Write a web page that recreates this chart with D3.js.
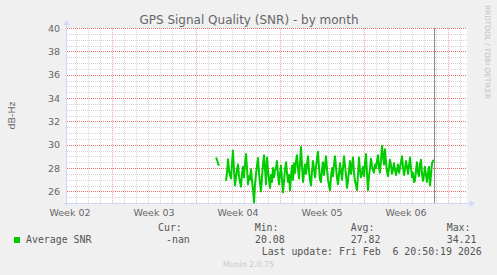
<!DOCTYPE html>
<html><head><meta charset="utf-8">
<script src="https://cdn.jsdelivr.net/npm/d3@7"></script>
<style>html,body{margin:0;padding:0;background:#F0F0F0;}svg{display:block;}</style>
</head><body>
<script>
// ---------- data ----------
const title = "GPS Signal Quality (SNR) - by month";
const yLabel = "dB-Hz";
const seriesName = "Average SNR";
const seriesColor = "#00CC00";
const yTicks = [26, 28, 30, 32, 34, 36, 38, 40];
const weekLabels = ["Week 02", "Week 03", "Week 04", "Week 05", "Week 06"];
const weekStarts = ["2026-01-04", "2026-01-11", "2026-01-18", "2026-01-25", "2026-02-01"];
const statLabels = ["Cur:", "Min:", "Avg:", "Max:"];
const statValues = ["-nan", "20.08", "27.82", "34.21"];
const lastUpdate = "Last update: Fri Feb  6 20:50:19 2026";
const lastUpdateTime = "2026-02-06T20:50:19Z";
const viewStart = "2026-01-07T06:00:00Z";
const viewEnd = "2026-02-09T14:00:00Z";
const dataStart = "2026-01-19T16:00:00Z"; // one value every 2 hours
const snr = [
 28.9,28.7,28.4,28.2,null,null,null,null,null,null,
 26.9,27.6,28.75,27.8,27.4,27.1,28.4,29.5,27.8,26.5,
 27.2,27.9,28.3,27.3,26.8,26.4,27.5,28.1,27.2,28.4,
 29.2,28.0,26.6,27.3,27.0,27.9,26.9,26.2,25.05,26.6,
 27.5,28.2,28.85,27.6,26.7,26.0,27.2,28.3,29.1,27.9,
 26.6,28.9,27.8,27.0,26.3,27.4,26.8,28.0,27.2,27.8,
 28.0,28.6,27.4,26.6,27.5,28.2,27.0,25.9,26.8,27.9,
 28.5,27.6,26.8,27.4,26.1,27.3,28.2,27.0,28.4,27.6,
 28.6,29.1,28.0,27.1,28.4,29.8,28.2,26.8,27.6,28.3,
 27.5,28.4,29.0,27.8,26.9,26.5,27.7,28.6,27.9,27.2,
 28.1,28.8,29.4,28.0,27.0,26.8,27.9,28.5,27.4,28.2,
 29.0,27.9,27.0,26.5,26.1,27.2,28.0,27.3,28.3,29.0,
 28.1,27.1,26.6,27.5,28.4,27.7,27.0,28.0,29.0,28.2,
 27.4,26.3,26.9,27.8,28.6,27.5,28.2,28.9,27.6,26.9,
 26.5,26.1,27.4,28.9,27.8,27.2,27.6,28.1,27.3,28.4,
 29.2,27.5,26.1,27.3,28.0,28.8,28.2,27.8,27.6,28.3,
 28.0,28.6,29.1,28.0,27.6,28.7,29.9,29.0,28.3,29.6,
 28.5,27.7,27.3,28.0,28.7,28.2,27.5,27.9,28.4,27.8,
 27.4,27.9,28.3,27.6,28.0,28.5,29.0,28.1,27.4,27.9,
 28.6,28.1,27.5,28.2,28.9,28.0,27.2,27.6,26.8,26.9,
 27.8,28.5,27.6,27.3,28.3,28.7,27.5,26.9,27.4,28.1,
 27.4,26.8,27.5,28.1,26.5,27.4,28.4,28.6,28.7
];

// ---------- layout ----------
const W = 497, H = 275;
const L = 67, R = 467, T = 28, B = 203;
const svg = d3.select("body").append("svg").attr("width", W).attr("height", H).attr("shape-rendering", "crispEdges");
svg.append("rect").attr("width", W).attr("height", H).attr("fill", "#F0F0F0");
svg.append("rect").attr("x", L).attr("y", T).attr("width", R - L).attr("height", B - T).attr("fill", "#FFFFFF");

const x = d3.scaleUtc().domain([new Date(viewStart), new Date(viewEnd)]).range([L, R]);
const y = d3.scaleLinear().domain([25, 40]).range([B, T]);

// dotted grid
const gridC = "#D4D4D4", mgridC = "#EC6A6A", mgridVC = "#F4A6A6";
const gMinor = svg.append("g"), gMajor = svg.append("g");
function hLine(g, yy, c) {
  g.append("line").attr("x1", L).attr("x2", R).attr("y1", yy + 0.5).attr("y2", yy + 0.5)
    .attr("stroke", c).attr("stroke-dasharray", "1 1");
}
function vLine(g, xx, c) {
  g.append("line").attr("x1", xx + 0.5).attr("x2", xx + 0.5).attr("y1", B).attr("y2", T)
    .attr("stroke", c).attr("stroke-dasharray", "1 1").attr("shape-rendering", "auto");
}
d3.range(25.5, 40.01, 0.5).filter(v => v % 2 !== 0).forEach(v => hLine(gMinor, Math.round(y(v)), gridC));
d3.utcDay.range(x.domain()[0], x.domain()[1]).forEach(d => { if (d.getUTCDay() !== 0) vLine(gMinor, Math.round(x(d)), gridC); });
yTicks.forEach(v => hLine(gMajor, Math.round(y(v)), mgridC));
d3.utcSunday.range(x.domain()[0], x.domain()[1]).forEach(d => vLine(gMajor, Math.round(x(d)), mgridVC));

// axes (light blue with arrows)
const axisC = "#CFD6F8";
svg.append("line").attr("x1", L - 3).attr("x2", R + 4).attr("y1", B + 0.5).attr("y2", B + 0.5).attr("stroke", axisC);
svg.append("path").attr("d", `M${R + 3},${B - 2.5} L${R + 8},${B + 0.5} L${R + 3},${B + 3.5} Z`).attr("fill", axisC).attr("shape-rendering", "auto");
svg.append("line").attr("x1", L - 0.5).attr("x2", L - 0.5).attr("y1", B + 3).attr("y2", T - 4).attr("stroke", axisC);
svg.append("path").attr("d", `M${L - 3.5},${T - 3} L${L - 0.5},${T - 8} L${L + 2.5},${T - 3} Z`).attr("fill", axisC).attr("shape-rendering", "auto");

// y tick labels
const fontS = "'DejaVu Sans', sans-serif";
const fontM = "'DejaVu Sans Mono', monospace";
svg.append("g").selectAll("text").data(yTicks).join("text")
  .attr("x", 60).attr("y", d => y(d) + 3.5).attr("text-anchor", "end")
  .attr("font-family", fontS).attr("font-size", 9.5).attr("fill", "#666").text(d => d);

// x labels (centered half a week after each Sunday)
svg.append("g").selectAll("text").data(weekLabels).join("text")
  .attr("x", (d, i) => x(new Date(new Date(weekStarts[i] + "T00:00:00Z").getTime() + 3.5 * 86400000)))
  .attr("y", 216).attr("text-anchor", "middle")
  .attr("font-family", fontS).attr("font-size", 9.5).attr("fill", "#666").text(d => d);

// series line
const t0 = new Date(dataStart).getTime();
const pts = snr.map((v, i) => ({t: new Date(t0 + i * 7200000), v}));
svg.append("path").datum(pts)
  .attr("d", d3.line().defined(d => d.v !== null).x(d => x(d.t)).y(d => y(d.v)))
  .attr("shape-rendering", "auto")
  .attr("fill", "none").attr("stroke", seriesColor).attr("stroke-width", 2).attr("stroke-linejoin", "round");

// now line
const xn = Math.round(x(new Date(lastUpdateTime))) + 0.5;
svg.append("line").attr("x1", xn).attr("x2", xn).attr("y1", T).attr("y2", B).attr("stroke", "#8C8C8C");

// title
svg.append("text").attr("x", 249).attr("y", 24).attr("text-anchor", "middle")
  .attr("font-family", fontS).attr("font-size", 12).attr("fill", "#666").text(title);
// y label
svg.append("text").attr("transform", `translate(15,${(T + B) / 2}) rotate(-90)`).attr("text-anchor", "middle")
  .attr("font-family", fontS).attr("font-size", 9.5).attr("fill", "#666").text(yLabel);
// watermark
svg.append("text").attr("transform", "translate(485,5) rotate(90)")
  .attr("font-family", fontS).attr("font-size", 7.3).attr("fill", "#C4C4C4").text("RRDTOOL / TOBI OETIKER");

// legend
const statX = [158, 254.7, 350.7, 446.7];
const valX = [166, 255, 350.7, 446.7];
svg.append("rect").attr("x", 14).attr("y", 237).attr("width", 6).attr("height", 6).attr("fill", seriesColor);
svg.append("text").attr("x", 26).attr("y", 243).attr("font-family", fontM).attr("font-size", 9.9).attr("fill", "#555").text(seriesName);
statLabels.forEach((s, i) => {
  svg.append("text").attr("x", statX[i]).attr("y", 231).attr("font-family", fontM).attr("font-size", 9.9).attr("fill", "#555").text(s);
  svg.append("text").attr("x", valX[i]).attr("y", 243).attr("font-family", fontM).attr("font-size", 9.9).attr("fill", "#555").text(statValues[i]);
});
svg.append("text").attr("x", 261.7).attr("y", 254.5).attr("font-family", fontM).attr("font-size", 9.9).attr("fill", "#555")
  .attr("xml:space", "preserve").style("white-space", "pre").text(lastUpdate);
svg.append("text").attr("x", 223).attr("y", 267).attr("font-family", fontS).attr("font-size", 7.8).attr("fill", "#C8C8C8").text("Munin 2.0.75");
</script>
</body></html>
